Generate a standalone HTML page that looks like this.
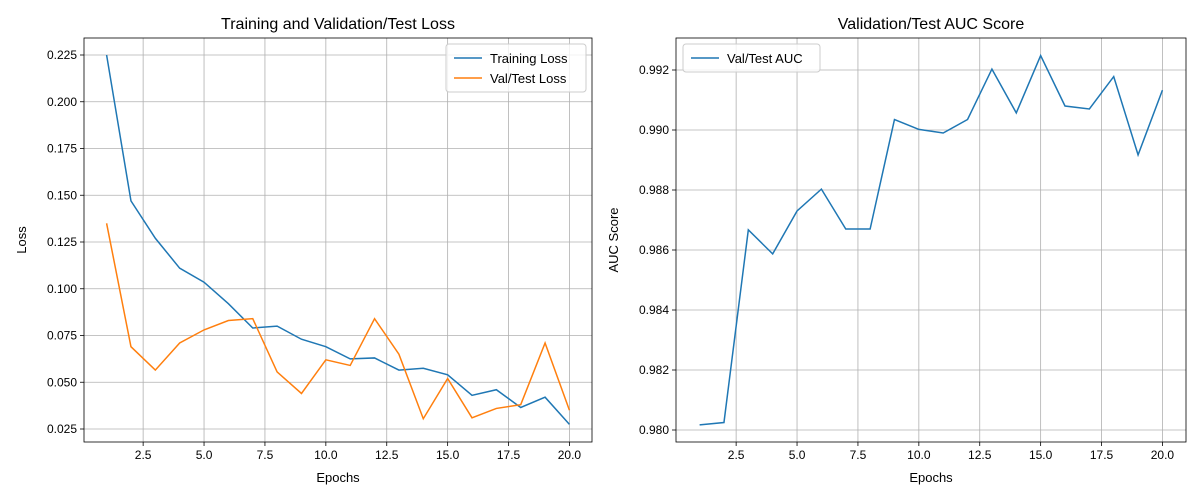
<!DOCTYPE html>
<html><head><meta charset="utf-8"><style>
html,body{margin:0;padding:0;background:#fff;}
svg{display:block;font-family:"Liberation Sans","DejaVu Sans",sans-serif;}
</style></head><body>
<svg id="chart" width="1200" height="500"></svg>
<script>
const epochs=[1,2,3,4,5,6,7,8,9,10,11,12,13,14,15,16,17,18,19,20];
const trainLoss=[0.225,0.147,0.127,0.111,0.1035,0.092,0.079,0.080,0.073,0.069,0.0625,0.063,0.0565,0.0575,0.054,0.043,0.046,0.0365,0.042,0.0275];
const valLoss=[0.135,0.069,0.0565,0.071,0.078,0.083,0.084,0.0555,0.044,0.062,0.059,0.084,0.065,0.0305,0.052,0.031,0.036,0.038,0.071,0.035];
const valAuc=[0.98017,0.98025,0.98667,0.98587,0.9873,0.98803,0.9867,0.9867,0.99035,0.99002,0.9899,0.99035,0.99203,0.99057,0.99248,0.9908,0.9907,0.99178,0.98917,0.99133];
const xTicks=[2.5,5.0,7.5,10.0,12.5,15.0,17.5,20.0];
const lossTicks=[0.025,0.050,0.075,0.100,0.125,0.150,0.175,0.200,0.225];
const aucTicks=[0.980,0.982,0.984,0.986,0.988,0.990,0.992];

const NS="http://www.w3.org/2000/svg";
const svg=document.getElementById('chart');
function mk(tag,attrs,parent,text){const e=document.createElementNS(NS,tag);for(const k in attrs)e.setAttribute(k,attrs[k]);if(text!==undefined)e.textContent=text;(parent||svg).appendChild(e);return e;}

function panel(cfg){
  const g=mk('g',{});
  
  
  const X=v=>cfg.x0+(v-1)*cfg.ux;
  const Y=v=>cfg.y0-(v-cfg.yb)*cfg.uy;
  xTicks.forEach(t=>{
    const x=X(t);
    const l=mk('line',{x1:x,x2:x,y1:cfg.top,y2:cfg.bottom,stroke:'#b0b0b0','stroke-width':0.8},g);
    
    mk('line',{x1:x,x2:x,y1:cfg.bottom,y2:cfg.bottom+4,stroke:'#000','stroke-width':0.8},g);
    const tx=mk('text',{x:x,y:cfg.bottom+17,'font-size':12,'text-anchor':'middle',fill:'#000'},g,t.toFixed(1));
    
  });
  cfg.yTicks.forEach(t=>{
    const y=Y(t);
    const l=mk('line',{x1:cfg.left,x2:cfg.right,y1:y,y2:y,stroke:'#b0b0b0','stroke-width':0.8},g);
    
    mk('line',{x1:cfg.left-4,x2:cfg.left,y1:y,y2:y,stroke:'#000','stroke-width':0.8},g);
    const tx=mk('text',{x:cfg.left-7,y:y+4,'font-size':12,'text-anchor':'end',fill:'#000'},g,t.toFixed(3));
    
  });
  cfg.series.forEach(s=>{
    const p=mk('polyline',{points:s.data.map((v,i)=>X(epochs[i])+','+Y(v)).join(' '),fill:'none',stroke:s.color,'stroke-width':1.5},g);
    
  });
  mk('rect',{x:cfg.left,y:cfg.top,width:cfg.right-cfg.left,height:cfg.bottom-cfg.top,fill:'none',stroke:'#000','stroke-width':0.8},g);
  const ti=mk('text',{x:(cfg.left+cfg.right)/2,y:29,'font-size':16,'text-anchor':'middle'},g,cfg.title);
  
  const xl=mk('text',{x:(cfg.left+cfg.right)/2,y:482,'font-size':13,'text-anchor':'middle'},g,'Epochs');
  
  const yl=mk('text',{x:cfg.ylx,y:(cfg.top+cfg.bottom)/2,'font-size':13,'text-anchor':'middle',transform:`rotate(-90 ${cfg.ylx} ${(cfg.top+cfg.bottom)/2})`},g,cfg.ylabel);
  
  // legend
  const lg=mk('g',{},g);
  
  const h=cfg.series.length*20+8;
  mk('rect',{x:cfg.lx,y:cfg.ly,width:cfg.lw,height:h,rx:3,fill:'#fff','fill-opacity':0.8,stroke:'#ccc'},lg);
  cfg.series.forEach((s,i)=>{
    const yy=cfg.ly+14+i*20;
    mk('line',{x1:cfg.lx+8,x2:cfg.lx+36,y1:yy,y2:yy,stroke:s.color,'stroke-width':1.5},lg);
    const lt=mk('text',{x:cfg.lx+44,y:yy+5,'font-size':13},lg,s.label);
    
  });
}
panel({name:'loss-panel',title:'Training and Validation/Test Loss',ylabel:'Loss',ylx:26,
  left:84,right:592,top:38,bottom:442,x0:106.6,ux:24.36,y0:429,yb:0.025,uy:46.75/0.025,yTicks:lossTicks,
  lx:446,ly:44,lw:140,
  series:[{name:'training-loss-line',label:'Training Loss',data:trainLoss,color:'#1f77b4'},{name:'val-loss-line',label:'Val/Test Loss',data:valLoss,color:'#ff7f0e'}]});
panel({name:'auc-panel',title:'Validation/Test AUC Score',ylabel:'AUC Score',ylx:618,
  left:676,right:1186,top:38,bottom:442,x0:699.6,ux:24.36,y0:430,yb:0.980,uy:60/0.002,yTicks:aucTicks,
  lx:683,ly:44,lw:137,
  series:[{name:'val-auc-line',label:'Val/Test AUC',data:valAuc,color:'#1f77b4'}]});
</script>
</body></html>
